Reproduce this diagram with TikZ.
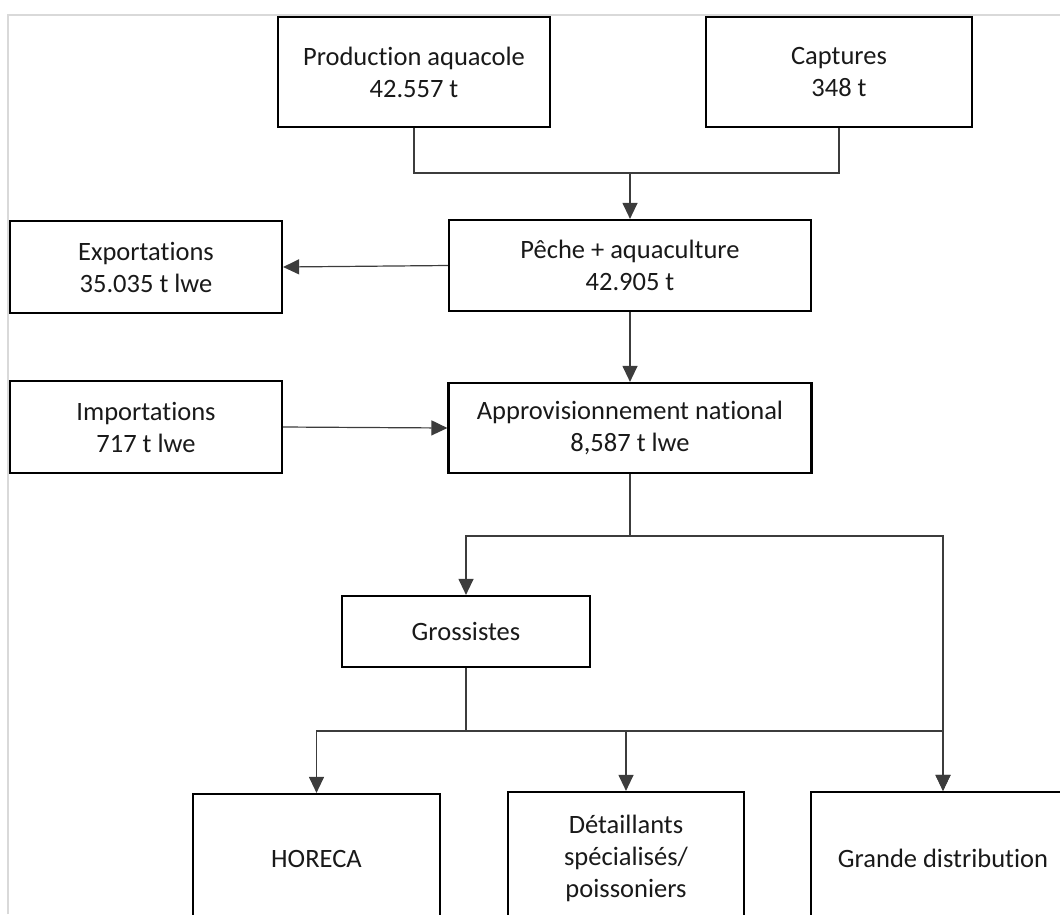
\documentclass[tikz,border=0pt]{standalone}
\usepackage{fontspec}
\setmainfont{Carlito}[Ligatures={NoCommon}]
\usetikzlibrary{arrows.meta}
\definecolor{ff}{RGB}{217, 217, 217}
\definecolor{ll}{RGB}{60, 60, 60}
\definecolor{tt}{RGB}{25, 25, 25}
\def\bw{2.2pt}
\newcommand{\flowbox}[6]{\node[draw,rectangle,line width=\bw,minimum width=#4pt,minimum height=#5pt,align=center,text=tt,inner sep=0pt] (#3) at (#1,#2) {#6};}

\begin{document}
\begin{tikzpicture}[x=1pt,y=-1pt,font=\fontsize{26.5}{32}\selectfont,>={Triangle[length=16pt,width=15pt]}]
				\clip (0,0) rectangle (1060,914);
				\draw[ff,line width=2pt] (8,914) -- (8,15) -- (1060,15);

				\flowbox{414}{72}{prod}{272}{110}{Production aquacole\\42.557 t}
				\flowbox{839}{72}{capt}{266}{110}{Captures\\348 t}
				\flowbox{630}{265.5}{peche}{362}{91}{Pêche + aquaculture\\42.905 t}
				\flowbox{146}{267}{expo}{272}{92}{Exportations\\35.035 t lwe}
				\flowbox{146}{427}{impo}{272}{92}{Importations\\717 t lwe}
				\flowbox{630}{428}{appro}{363}{90}{Approvisionnement national\\8,587 t lwe}
				\flowbox{466}{631.5}{gross}{248}{71}{Grossistes}
				\flowbox{316.5}{859}{horeca}{247}{130}{HORECA}
				\flowbox{626}{858}{detail}{236}{132}{Détaillants\\spécialisés/\\poissoniers}
				\flowbox{943}{858}{grande}{264}{132}{Grande distribution}

				\coordinate (j1) at (630,173);
				\coordinate (j2) at (630,536);
				\coordinate (j3) at (466,731);

				\draw[ll,line width=1.2pt] (prod.south) |- (j1) -| (capt.south);
				\draw[->,ll,line width=1.2pt] (j1) -- (peche.north);
				\draw[->,ll,line width=1.2pt] (peche.west) -- (expo.east);
				\draw[->,ll,line width=1.2pt] (peche.south) -- (appro.north);
				\draw[->,ll,line width=1.2pt] (impo.east) -- (appro.west);
				\draw[->,ll,line width=1.2pt] (appro.south) -- (j2) -| (gross.north);
				\draw[->,ll,line width=1.2pt] (j2) -| (grande.north);
				\draw[ll,line width=1.2pt] (gross.south) -- (j3);
				\draw[->,ll,line width=1.2pt] (j3) -| (horeca.north);
				\draw[->,ll,line width=1.2pt] (j3) -| (detail.north);
				\draw[->,ll,line width=1.2pt] (j3) -| (grande.north);
			\end{tikzpicture}
\end{document}
